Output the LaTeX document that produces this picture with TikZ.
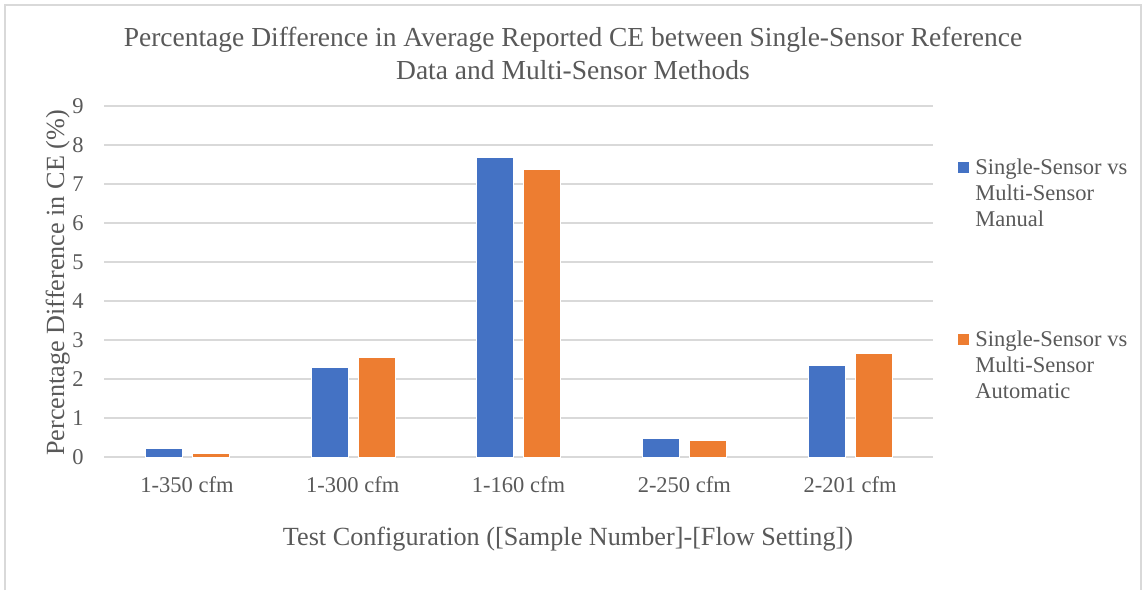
\documentclass[tikz,border=0pt]{standalone}
\usepackage{fontspec}
\setmainfont{Liberation Serif}
\usepackage{xcolor}

\definecolor{barblue}{HTML}{4472C4}
\definecolor{barorange}{HTML}{ED7D31}
\definecolor{textgray}{HTML}{595959}
\definecolor{gridgray}{HTML}{D9D9D9}

\begin{document}
\begin{tikzpicture}[x=0.5pt,y=-0.5pt,
		grid line/.style={draw=gridgray,line width=0.75pt},
		blue bar/.style={fill=barblue,draw=white,line width=0.3pt},
		orange bar/.style={fill=barorange,draw=white,line width=0.3pt},
		key box/.style={rectangle,inner sep=0pt,minimum size=5.5pt},
		tick label/.style={text=textgray,inner sep=0pt,font=\fontsize{11.25}{13}\selectfont},
		axis title/.style={text=textgray,inner sep=0pt,font=\fontsize{13.1}{15}\selectfont},
		legend text/.style={text=textgray,inner sep=0pt,align=left,font=\fontsize{11.25}{13}\selectfont}]

		\useasboundingbox (0,0) rectangle (1142,590);
		\draw[gridgray,line width=1pt] (5,590) -- (5,5) -- (1141,5) -- (1141,590);

		% gridlines and y ticks
		\foreach \v in {0,...,9}{
			\draw[grid line] (104,457-39*\v) -- (933,457-39*\v);
			\node[tick label,anchor=east] (y\v) at (84,457-39*\v) {\v};
		}

		% bars
		\path[blue bar] (145,457) rectangle (182,457-39*0.22);
		\path[orange bar] (192,457) rectangle (229,457-39*0.10);
		\path[blue bar] (311,457) rectangle (348,457-39*2.29);
		\path[orange bar] (358,457) rectangle (395,457-39*2.55);
		\path[blue bar] (476.5,457) rectangle (513.5,457-39*7.68);
		\path[orange bar] (523.5,457) rectangle (560.5,457-39*7.37);
		\path[blue bar] (642.3,457) rectangle (679.3,457-39*0.48);
		\path[orange bar] (689.3,457) rectangle (726.3,457-39*0.42);
		\path[blue bar] (808,457) rectangle (845,457-39*2.36);
		\path[orange bar] (855,457) rectangle (892,457-39*2.67);

		% category labels
		\node[tick label,anchor=base] (c1) at (187,492) {1-350 cfm};
		\node[tick label,anchor=base] (c2) at (352.7,492) {1-300 cfm};
		\node[tick label,anchor=base] (c3) at (518.5,492) {1-160 cfm};
		\node[tick label,anchor=base] (c4) at (684.3,492) {2-250 cfm};
		\node[tick label,anchor=base] (c5) at (850.1,492) {2-201 cfm};

		% titles
		\node[text=textgray,align=center,anchor=north,inner sep=0pt,
			font=\fontsize{13.75}{16.5}\selectfont] (title) at (573,27)
			{Percentage Difference in Average Reported CE between Single-Sensor Reference\\Data and Multi-Sensor Methods};
		\node[axis title,anchor=base] (xtitle) at (568,545)
			{Test Configuration ([Sample Number]-[Flow Setting])};
		\node[axis title,anchor=base,rotate=90] (ytitle) at (64,283)
			{Percentage Difference in CE (\%)};

		% legend
		\node[key box,fill=barblue] (k1) at (963.5,167.5) {};
		\node[legend text,anchor=north west] (l1) at (975,158) {Single-Sensor vs\\Multi-Sensor\\Manual};
		\node[key box,fill=barorange] (k2) at (963.5,339.5) {};
		\node[legend text,anchor=north west] (l2) at (975,330) {Single-Sensor vs\\Multi-Sensor\\Automatic};
\end{tikzpicture}
\end{document}
